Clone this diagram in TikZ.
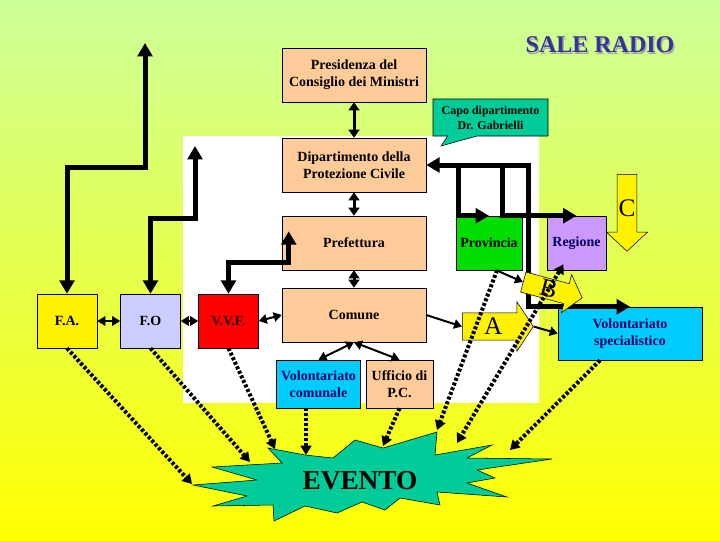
\documentclass[tikz,border=0pt]{standalone}
\usepackage{fontspec}
\setmainfont{Liberation Serif}
\usepackage{xcolor}
\usetikzlibrary{shapes,arrows,positioning,calc,arrows.meta}

\definecolor{peach}{HTML}{FFCC99}
\definecolor{callgreen}{HTML}{00CC99}
\definecolor{provgreen}{HTML}{00DD00}
\definecolor{lilac}{HTML}{CC99FF}
\definecolor{periwinkle}{HTML}{CCCCFF}
\definecolor{skyblue}{HTML}{00CCFF}
\definecolor{radioblue}{HTML}{333399}
\definecolor{navy}{HTML}{000066}
\definecolor{bgtop}{HTML}{CCFF99}
\definecolor{bgbot}{HTML}{FFFF00}

\begin{document}
\begin{tikzpicture}[x=0.75pt,y=-0.75pt,
    box/.style={draw, thin, fill=peach, minimum width=108pt, minimum height=40.5pt, align=center, inner sep=1pt, font=\fontsize{10.5}{12.75}\bfseries\selectfont},
    corps/.style={box, minimum width=45pt},
    blk/.style={single arrow, draw, thin, fill=yellow, inner sep=0pt, font=\fontsize{19}{19}\selectfont},
    thk/.style={line width=3.75pt, >={Triangle[width=11pt,length=10pt]}},
    mid/.style={line width=2.25pt, >={Triangle[width=8pt,length=6pt]}},
    thn/.style={line width=1.5pt, >={Triangle[width=7pt,length=6pt]}},
    dotarr/.style={line width=3pt, dash pattern=on 2.25pt off 1.5pt, >={Triangle[width=8pt,length=7pt]}}
]
    % background
    \useasboundingbox (0,0) rectangle (720,540);
    \shade[top color=bgtop, bottom color=bgbot] (0,0) rectangle (720,540);
    \fill[white] (183,136) rectangle (539,403);

    \node[text=black!35, font=\fontsize{18}{18}\bfseries\selectfont] (radioshadow) at (601.5,46.5) {SALE RADIO};
    \node[text=radioblue, font=\fontsize{18}{18}\bfseries\selectfont] (radio) at (600,45) {SALE RADIO};

    % boxes
    \node[box] (pres) at (354,75) {Presidenza del\\Consiglio dei Ministri};
    \node[box] (dip) at (354,165) {Dipartimento della\\Protezione Civile};
    \node[box] (pref) at (354,243) {Prefettura};
    \node[box] (com) at (354,315) {Comune};
    \node[box, fill=skyblue, text=navy, minimum width=63pt, minimum height=36pt] (volcom) at (318.5,384) {Volontariato\\comunale};
    \node[box, minimum width=50.25pt, minimum height=36pt] (uff) at (399.5,384) {Ufficio di\\P.C.};
    \node[box, fill=provgreen, minimum width=49.5pt] (prov) at (489,243) {Provincia};
    \node[box, fill=lilac, text=navy, minimum width=44.25pt] (reg) at (576.5,243) {Regione};
    \node[corps, fill=yellow] (fa) at (67,321) {F.A.};
    \node[corps, fill=periwinkle] (fo) at (150.5,321) {F.O};
    \node[corps, fill=red, text=black!80!red] (vvf) at (228.5,321) {V.V.F.};
    \node[box, fill=skyblue, text=navy, minimum height=39.75pt] (volspec) at (630,333.5) {Volontariato\\specialistico};
    \node[rectangle callout, draw, thin, fill=callgreen, minimum width=86.25pt, minimum height=27.75pt,
        callout absolute pointer={(441,146)}, callout pointer width=22pt, align=center,
        font=\fontsize{9}{11.25}\bfseries\selectfont] (capo) at (490.5,117.5) {Capo dipartimento\\Dr. Gabrielli};

    % thick links
    \coordinate (fatop) at (145,43);
    \coordinate (fotop) at (195,146);
    \coordinate (vvftop) at ($(pref.south west)+(7,-39)$);
    \coordinate (jr) at ($(dip.east)+(102,0)$);
    \draw[thk,<->] (fa.north) -- ++(0,-126) -| (fatop);
    \draw[thk,<->] (fo.north) -- ++(0,-75) -| (fotop);
    \draw[thk,<->] (vvf.north) -- ++(0,-31) -| (vvftop);
    \draw[thk,<->] (dip.east) -- (jr) |- (volspec.north);
    \draw[thk,->] ($(dip.east)+(32,0)$) |- (prov.north);
    \draw[thk,->] ($(dip.east)+(76,0)$) |- (reg.north);

    \draw[mid,<->] (pres) -- (dip);
    \draw[mid,<->] (dip) -- (pref);
    \draw[mid,<->] (pref) -- (com);

    % block arrows
    \node[blk, inner ysep=3.8pt, minimum height=53.25pt, minimum width=36.75pt, single arrow head extend=8.25pt, single arrow tip angle=113, anchor=tail] (A) at (462,326.5) {A};
    \node[blk, inner ysep=1.3pt, minimum height=45.75pt, minimum width=28.5pt, single arrow head extend=7pt, single arrow tip angle=101, rotate=-15, anchor=tail] (B) at (523,282) {B};
    \node[blk, inner xsep=0.8pt, minimum height=57.75pt, minimum width=30.75pt, single arrow head extend=7.9pt, single arrow tip angle=94, shape border rotate=270, anchor=tail] (C) at (627,174) {C};

    \draw[thn,<->] (fa) -- (fo);
    \draw[thn,<->] (fo) -- (vvf);
    \draw[thn,<->] (vvf.east) -- (com.west);
    \draw[thn,<->] (com.south) -- (volcom.north);
    \draw[thn,<->] (com.south) -- (uff.north);
    \draw[thn,->] (com.east) -- (A.tail);
    \draw[thn,->] (A.tip) -- (volspec.west);
    \draw[thn,->] (prov.-75) -- (B.tail);

    % evento
    \draw[thin, fill=callgreen] (268,448) -- (305,455) -- (333,458) -- (355,440) -- (383,448) -- (437,432)
        -- (435,455) -- (492,445) -- (467,458) -- (552,459) -- (477,470) -- (495,478) -- (467,483)
        -- (507,497) -- (437,492) -- (440,505) -- (400,498) -- (385,510) -- (362,502) -- (337,513)
        -- (305,506) -- (274,521) -- (273,505) -- (213,506) -- (247,496) -- (193,485) -- (257,480)
        -- (212,467) -- (282,463) -- cycle;
    \node[font=\fontsize{20.5}{24}\bfseries\selectfont] (ev) at (360,481) {EVENTO};

    \coordinate (ev1) at (192,484);
    \coordinate (ev2) at (250,462);
    \coordinate (ev3) at (275,449);
    \coordinate (ev4) at (306,455);
    \coordinate (ev5) at (383,446);
    \coordinate (ev6) at (437,430);
    \coordinate (ev7) at (457,443);
    \coordinate (ev8) at (510,450);
    \draw[dotarr,->] (fa.south) -- (ev1);
    \draw[dotarr,->] (fo.south) -- (ev2);
    \draw[dotarr,->] (vvf.south) -- (ev3);
    \draw[dotarr,->] (volcom.south -| ev4) -- (ev4);
    \draw[dotarr,->] (uff.south) -- (ev5);
    \draw[dotarr,->] ($(prov.south)+(8,0)$) -- (ev6);
    \draw[dotarr,<->] ($(reg.south)+(-13,-6)$) -- (ev7);
    \draw[dotarr,->] ($(volspec.south)+(-30,0)$) -- (ev8);
\end{tikzpicture}
\end{document}
